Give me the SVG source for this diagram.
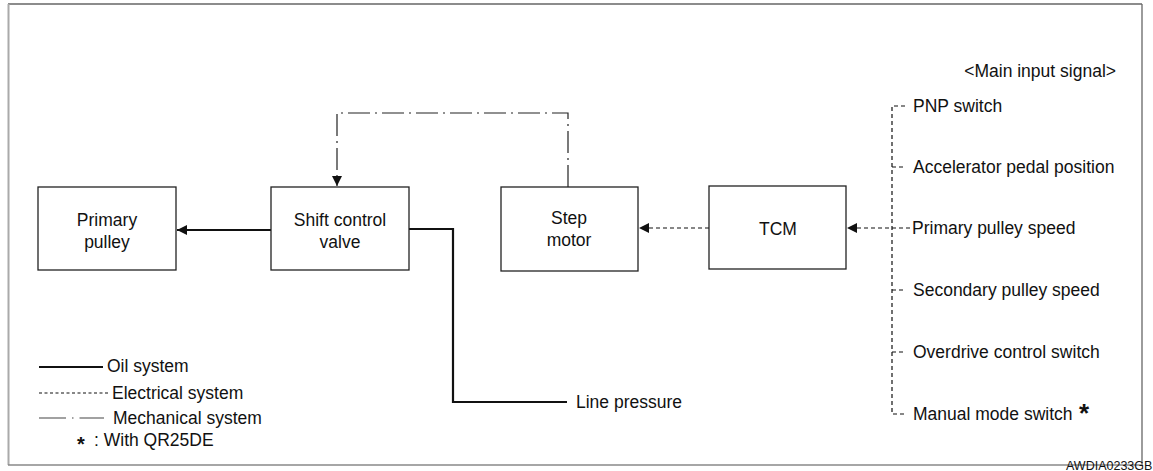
<svg xmlns="http://www.w3.org/2000/svg" width="1153" height="471" viewBox="0 0 1153 471">
<defs>
<style>
text{font-family:"Liberation Sans",Arial,sans-serif;font-size:17.5px;fill:#111}
.c{text-anchor:middle}
.box{fill:#fff;stroke:#222;stroke-width:1.3}
.oil{fill:none;stroke:#111;stroke-width:2.2}
.ele{fill:none;stroke:#111;stroke-width:1.2;stroke-dasharray:4 3}
.mec{fill:none;stroke:#222;stroke-width:1.2;stroke-dasharray:22 5 2 5}
</style>
<marker id="ah" viewBox="0 0 10 10" refX="10" refY="5" markerWidth="10" markerHeight="10" markerUnits="userSpaceOnUse" orient="auto">
<path d="M0,0 L10,5 L0,10 Z" fill="#111"/>
</marker>
</defs>
<rect width="1153" height="471" fill="#fff"/>
<g id="frame">
<line x1="8" y1="4" x2="1142" y2="4" stroke="#666" stroke-width="1.3"/>
<line x1="8.5" y1="4" x2="8.5" y2="465" stroke="#aaa" stroke-width="2"/>
<line x1="1142" y1="4" x2="1142" y2="465" stroke="#666" stroke-width="1.3"/>
<line x1="8" y1="465" x2="1142" y2="465" stroke="#888" stroke-width="1.3"/>
<text x="1066" y="470" style="font-size:12.5px">AWDIA0233GB</text>
</g>
<g id="connectors">
<line class="oil" x1="271" y1="230" x2="177" y2="230" marker-end="url(#ah)"/>
<polyline class="oil" points="409,229 453,229 453,402 567,402"/>
<line class="ele" x1="709" y1="228" x2="639" y2="228" marker-end="url(#ah)"/>
<line class="ele" x1="910" y1="228" x2="847" y2="228" marker-end="url(#ah)"/>
<polyline class="mec" points="568,187 568,113 337,113 337,186" marker-end="url(#ah)"/>
<polyline class="ele" points="905,106 892,106 892,414 905,414"/>
<line class="ele" x1="892" y1="167" x2="905" y2="167"/>
<line class="ele" x1="892" y1="290" x2="905" y2="290"/>
<line class="ele" x1="892" y1="352" x2="905" y2="352"/>
</g>
<g id="primary-pulley">
<rect class="box" x="38" y="187" width="138" height="83"/>
<text class="c" x="107" y="226">Primary</text>
<text class="c" x="107" y="248">pulley</text>
</g>
<g id="shift-control-valve">
<rect class="box" x="271" y="187" width="138" height="83"/>
<text class="c" x="340" y="226">Shift control</text>
<text class="c" x="340" y="248">valve</text>
</g>
<g id="step-motor">
<rect class="box" x="501" y="187" width="137" height="84"/>
<text class="c" x="569" y="224">Step</text>
<text class="c" x="569" y="246">motor</text>
</g>
<g id="tcm">
<rect class="box" x="709" y="186" width="137" height="83"/>
<text class="c" x="778" y="235">TCM</text>
</g>
<g id="inputs">
<text x="1116" y="77" style="text-anchor:end">&lt;Main input signal&gt;</text>
<text x="913" y="112">PNP switch</text>
<text x="913" y="173">Accelerator pedal position</text>
<text x="912" y="234">Primary pulley speed</text>
<text x="913" y="296">Secondary pulley speed</text>
<text x="913" y="358">Overdrive control switch</text>
<text x="913" y="420">Manual mode switch</text>
<text x="1079" y="422" style="font-size:26px;font-weight:bold">*</text>
</g>
<g id="line-pressure">
<text x="576" y="408">Line pressure</text>
</g>
<g id="legend">
<line x1="39" y1="367" x2="103" y2="367" stroke="#111" stroke-width="2"/>
<text x="107" y="372">Oil system</text>
<line class="ele" x1="39" y1="393" x2="109" y2="393" style="stroke-dasharray:3 2.5"/>
<text x="112" y="399">Electrical system</text>
<line x1="39" y1="418" x2="104" y2="418" stroke="#444" stroke-width="1.2" stroke-dasharray="27 6 1.5 6"/>
<text x="113" y="424">Mechanical system</text>
<text x="77" y="451" style="font-size:20px;font-weight:bold">*</text>
<text x="94" y="446">: With QR25DE</text>
</g>
</svg>
